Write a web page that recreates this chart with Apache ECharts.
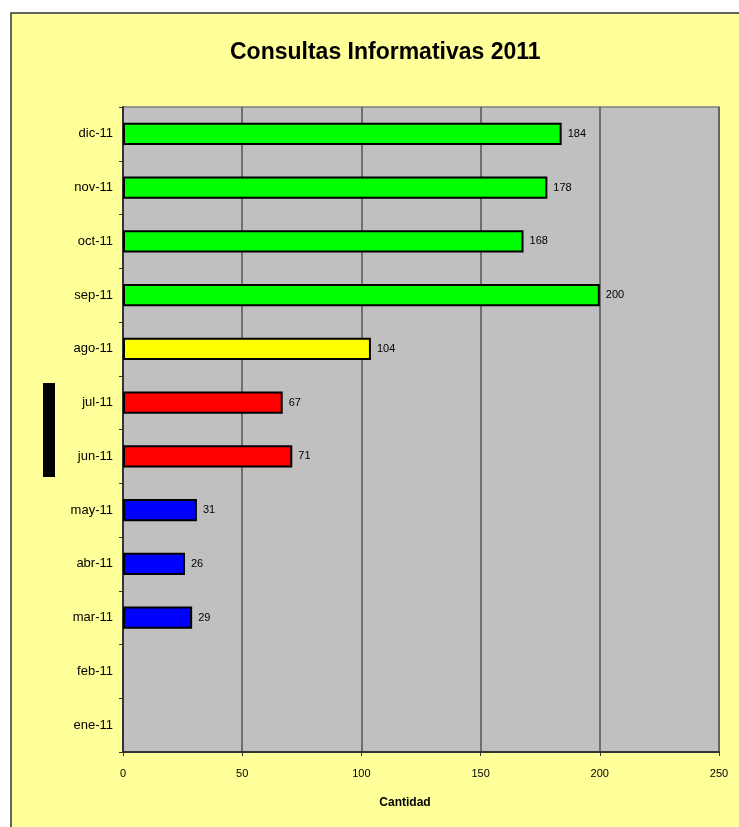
<!DOCTYPE html>
<html>
<head>
<meta charset="utf-8">
<script src="https://cdn.jsdelivr.net/npm/echarts@6/dist/echarts.min.js"></script>
<style>
  html, body { margin: 0; padding: 0; background: #fff; }
  #chart { width: 739px; height: 827px; }
</style>
</head>
<body>
<div id="chart"></div>
<script>
// datos del grafico
var meses = ['ene-11', 'feb-11', 'mar-11', 'abr-11', 'may-11', 'jun-11', 'jul-11', 'ago-11', 'sep-11', 'oct-11', 'nov-11', 'dic-11']
var consultas = [null, null, 29, 26, 31, 71, 67, 104, 200, 168, 178, 184]
var ticksX = [0, 50, 100, 150, 200, 250]

// color de cada barra
var colores = ['#0000ff', '#0000ff', '#0000ff', '#0000ff', '#0000ff', '#ff0000', '#ff0000', '#ffff00', '#00ff00', '#00ff00', '#00ff00', '#00ff00']

var chart = echarts.init(document.getElementById('chart'))

chart.setOption({
  backgroundColor: '#ffffff',
  animation: false,
  textStyle: { fontFamily: 'Liberation Sans, Arial, sans-serif' },
  graphic: [
    {
      type: 'rect',
      z: -10,
      shape: { x: 11, y: 13, width: 760, height: 840 },
      style: { fill: '#ffff99', stroke: '#333333', lineWidth: 1.5 }
    },
    {
      type: 'rect',
      shape: { x: 43, y: 383, width: 12, height: 94 },
      style: { fill: '#000000' }
    }
  ],
  title: {
    text: 'Consultas Informativas 2011',
    left: 225,
    top: 36,
    textStyle: { fontSize: 23, fontWeight: 'bold', color: '#000' }
  },
  grid: {
    left: 123,
    top: 107,
    right: 20,
    bottom: 75,
    show: true,
    backgroundColor: '#c0c0c0',
    borderColor: '#808080',
    borderWidth: 1.5
  },
  xAxis: {
    type: 'value',
    min: ticksX[0],
    max: ticksX[ticksX.length - 1],
    interval: 50,
    name: 'Cantidad',
    nameLocation: 'middle',
    nameGap: 45,
    nameTextStyle: { fontSize: 12, fontWeight: 'bold', color: '#000', padding: [0, 32, 0, 0] },
    axisLine: { show: true, lineStyle: { color: '#333', width: 2 } },
    axisTick: { show: true, length: 4, lineStyle: { color: '#333' } },
    axisLabel: { fontSize: 11, color: '#000', margin: 16 },
    splitLine: { show: true, lineStyle: { color: '#555', width: 1.5 } }
  },
  yAxis: {
    type: 'category',
    data: meses,
    axisLine: { show: true, lineStyle: { color: '#333', width: 2 } },
    axisTick: { show: true, length: 4, lineStyle: { color: '#333' } },
    axisLabel: { fontSize: 13, color: '#000', margin: 10 },
    splitLine: { show: false }
  },
  series: [
    {
      type: 'bar',
      barCategoryGap: '59%',
      data: consultas.map(function (v, i) {
        return { value: v, itemStyle: { color: colores[i] } }
      }),
      itemStyle: { borderColor: '#000', borderWidth: 2 },
      label: {
        show: true,
        position: 'right',
        distance: 6,
        fontSize: 11,
        color: '#000'
      }
    }
  ]
})
</script>
</body>
</html>
